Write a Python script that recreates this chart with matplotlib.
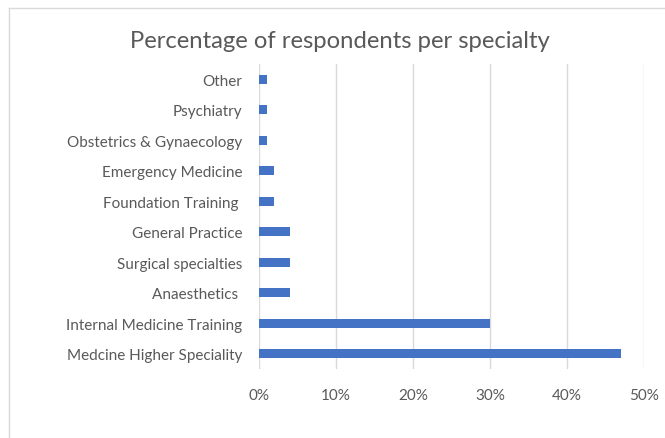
import matplotlib

matplotlib.use("Agg")
import matplotlib.pyplot as plt  # noqa: E402
from matplotlib.lines import Line2D  # noqa: E402

# data (top to bottom on the chart)
SPECIALTIES = ["Other", "Psychiatry", "Obstetrics & Gynaecology", "Emergency Medicine",
               "Foundation Training ", "General Practice", "Surgical specialties",
               "Anaesthetics ", "Internal Medicine Training", "Medcine Higher Speciality"]
PERCENT = [1, 1, 1, 2, 2, 4, 4, 4, 30, 47]
XTICKS = [0, 10, 20, 30, 40, 50]

BLUE = "#4472C4"
GREY_TXT = "#595959"
GRID = "#D9D9D9"

plt.rcParams["font.family"] = ["Lato", "DejaVu Sans"]

fig = plt.figure(figsize=(6.65, 4.39), dpi=100)
W, H = 665, 439
ax = fig.add_axes([259 / W, 1 - 370 / H, (644 - 259) / W, (370 - 65) / H])

ys = list(range(len(SPECIALTIES)))
ax.barh(ys, PERCENT, height=0.31, color=BLUE, zorder=3)
ax.set_ylim(len(SPECIALTIES) - 0.5, -0.5)
ax.set_yticks(ys)
ax.set_yticklabels(SPECIALTIES, fontsize=11, color=GREY_TXT)
ax.set_xlim(0, 50)
ax.set_xticks(XTICKS)
ax.set_xticklabels([f"{v}%" for v in XTICKS], fontsize=11, color=GREY_TXT)
ax.tick_params(length=0)
ax.tick_params(axis="x", pad=14)
ax.tick_params(axis="y", pad=12)
ax.grid(axis="x", color=GRID, lw=1.0, zorder=0)
for s in ax.spines.values():
    s.set_visible(False)

fig.text(340 / W, 1 - 41 / H, "Percentage of respondents per specialty",
         ha="center", va="center", fontsize=17.2, color=GREY_TXT)

# chart-area border (top and left edges visible in the crop)
fig.add_artist(Line2D([9 / W, 1], [1 - 9 / H, 1 - 9 / H], color=GRID, lw=1.0,
                      transform=fig.transFigure))
fig.add_artist(Line2D([9 / W, 9 / W], [0, 1 - 9 / H], color=GRID, lw=1.0,
                      transform=fig.transFigure))

fig.savefig("out.png", dpi=100)
